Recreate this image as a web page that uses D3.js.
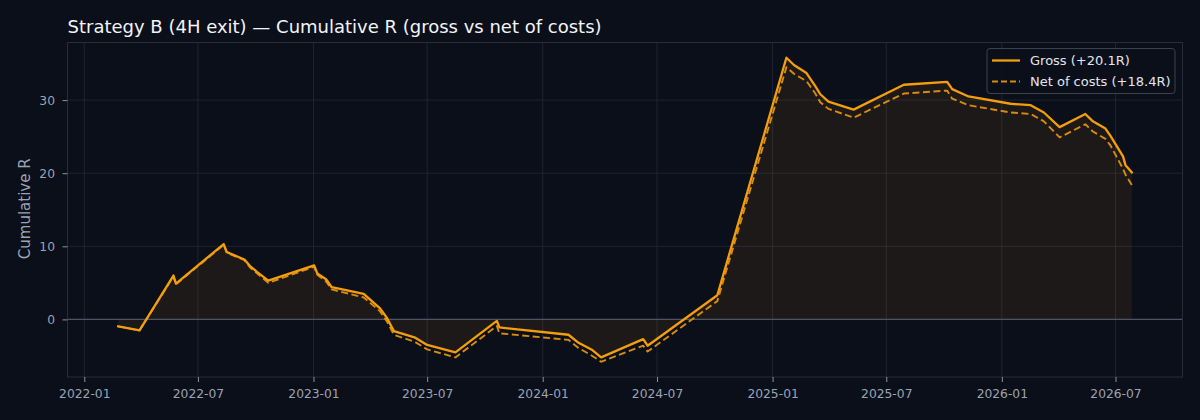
<!DOCTYPE html>
<html>
<head>
<meta charset="utf-8">
<script src="https://cdn.jsdelivr.net/npm/d3@7"></script>
<style>
  html, body { margin: 0; padding: 0; background: #0b0f19; }
  svg { display: block; font-family: "DejaVu Sans", sans-serif; }
</style>
</head>
<body>
<svg id="chart" width="1200" height="420"></svg>
<script>
// trade close dates
const dates = [
  "2022-02-24", "2022-03-30", "2022-05-23", "2022-05-27", "2022-08-11", "2022-08-16",
  "2022-09-13", "2022-09-22", "2022-10-03", "2022-10-21", "2023-01-02", "2023-01-07",
  "2023-01-21", "2023-01-30", "2023-03-22", "2023-04-17", "2023-04-28", "2023-05-09",
  "2023-06-12", "2023-07-01", "2023-08-15", "2023-10-20", "2023-10-24", "2024-02-11",
  "2024-02-27", "2024-03-20", "2024-04-03", "2024-06-09", "2024-06-16", "2024-10-05",
  "2025-01-23", "2025-02-04", "2025-02-24", "2025-03-10", "2025-03-18", "2025-03-31",
  "2025-05-10", "2025-07-29", "2025-10-06", "2025-10-14", "2025-11-09", "2026-01-15",
  "2026-02-16", "2026-03-09", "2026-04-03", "2026-05-14", "2026-05-26", "2026-06-15",
  "2026-06-23", "2026-07-13", "2026-07-17", "2026-07-27"
];
const gross = [
  -0.96, -1.5, 6.0, 4.9, 10.3, 9.2,
  8.2, 7.3, 6.5, 5.3, 7.4, 6.3,
  5.5, 4.4, 3.5, 1.5, 0.2, -1.6,
  -2.5, -3.5, -4.5, -0.2, -1.1, -2.1,
  -3.2, -4.2, -5.2, -2.7, -3.6, 3.3,
  35.8, 34.8, 33.7, 31.9, 30.8, 29.8,
  28.7, 32.1, 32.5, 31.5, 30.5, 29.5,
  29.3, 28.3, 26.3, 28.1, 27.1, 26.1,
  25.1, 22.3, 21.1, 20.1
];
const net = [
  -0.96, -1.5, 5.9, 4.8, 10.2, 9.1,
  8.1, 7.1, 6.3, 5.0, 7.2, 6.1,
  5.2, 4.1, 3.0, 1.1, -0.3, -2.1,
  -3.1, -4.1, -5.2, -0.9, -1.9, -2.8,
  -3.9, -5.0, -5.8, -3.6, -4.4, 2.5,
  34.5, 33.6, 32.6, 30.9, 29.7, 28.8,
  27.6, 30.9, 31.3, 30.2, 29.3, 28.3,
  28.1, 27.1, 24.9, 26.7, 25.7, 24.7,
  23.8, 20.6, 19.8, 18.4
];
const xTicks = ["2022-01", "2022-07", "2023-01", "2023-07", "2024-01", "2024-07", "2025-01", "2025-07", "2026-01", "2026-07"];
const yTicks = [0, 10, 20, 30];
const seriesNames = ["Gross (+20.1R)", "Net of costs (+18.4R)"];

const parse = d3.timeParse("%Y-%m-%d");
const parseMonth = d3.timeParse("%Y-%m");
const rows = dates.map((d, i) => ({date: parse(d), gross: gross[i], net: net[i]}));

const margin = {top: 42.5, right: 17.5, bottom: 43, left: 67.5};
const width = 1200, height = 420;
const amber = "#f59e0b";
const netColor = "#d98b0c";

const svg = d3.select("#chart");

// matplotlib-like 5% padding on both axes
const xExt = d3.extent(rows, d => d.date);
const xPad = (xExt[1] - xExt[0]) * 0.05;
const x = d3.scaleTime()
  .domain([new Date(+xExt[0] - xPad), new Date(+xExt[1] + xPad)])
  .range([margin.left, width - margin.right]);

const yMin = d3.min([d3.min(gross), d3.min(net), 0]);
const yMax = d3.max([d3.max(gross), d3.max(net)]);
const yPad = (yMax - yMin) * 0.05;
const y = d3.scaleLinear()
  .domain([yMin - yPad, yMax + yPad])
  .range([height - margin.bottom, margin.top]);

// grid
const grid = svg.append("g").attr("stroke", "#222a38").attr("stroke-width", 0.8);
grid.selectAll("line.v").data(xTicks).enter().append("line")
  .attr("x1", d => x(parseMonth(d))).attr("x2", d => x(parseMonth(d)))
  .attr("y1", margin.top).attr("y2", height - margin.bottom);
grid.selectAll("line.h").data(yTicks).enter().append("line")
  .attr("x1", margin.left).attr("x2", width - margin.right)
  .attr("y1", d => y(d)).attr("y2", d => y(d));

// fill under gross
const area = d3.area()
  .x(d => x(d.date))
  .y0(y(0))
  .y1(d => y(d.gross));
svg.append("path").datum(rows)
  .attr("d", area)
  .attr("fill", amber)
  .attr("fill-opacity", 0.08);

// zero line
svg.append("line")
  .attr("x1", margin.left).attr("x2", width - margin.right)
  .attr("y1", y(0)).attr("y2", y(0))
  .attr("stroke", "#4b5565").attr("stroke-width", 1.3);

// lines
const lineG = d3.line().x(d => x(d.date)).y(d => y(d.gross));
const lineN = d3.line().x(d => x(d.date)).y(d => y(d.net));
svg.append("path").datum(rows)
  .attr("d", lineN)
  .attr("fill", "none")
  .attr("stroke", netColor)
  .attr("stroke-width", 1.9)
  .attr("stroke-dasharray", "7,3.5")
  .attr("stroke-linejoin", "round");
svg.append("path").datum(rows)
  .attr("d", lineG)
  .attr("fill", "none")
  .attr("stroke", amber)
  .attr("stroke-width", 2.3)
  .attr("stroke-linejoin", "round")
  .attr("stroke-linecap", "square");

// frame
svg.append("rect")
  .attr("x", margin.left).attr("y", margin.top)
  .attr("width", width - margin.left - margin.right)
  .attr("height", height - margin.top - margin.bottom)
  .attr("fill", "none").attr("stroke", "#262d3b").attr("stroke-width", 1);

// axes
const xAxis = g => g
  .attr("transform", `translate(0,${height - margin.bottom})`)
  .call(d3.axisBottom(x)
    .tickValues(xTicks.map(parseMonth))
    .tickFormat(d3.timeFormat("%Y-%m"))
    .tickSize(5).tickPadding(7.5))
  .call(g => g.select(".domain").remove());
const yAxis = g => g
  .attr("transform", `translate(${margin.left},0)`)
  .call(d3.axisLeft(y).tickValues(yTicks).tickSize(5).tickPadding(7.5))
  .call(g => g.select(".domain").remove());

svg.append("g").call(xAxis);
svg.append("g").call(yAxis);
svg.selectAll(".tick line").attr("stroke", "#8a93a6");
svg.selectAll(".tick text")
  .attr("fill", "#9ba4b6")
  .style("font-size", "12.3px")
  .style("font-family", "DejaVu Sans, sans-serif");

// y label
svg.append("text")
  .attr("transform", `translate(30,${(margin.top + height - margin.bottom) / 2 - 1}) rotate(-90)`)
  .attr("text-anchor", "middle")
  .attr("fill", "#9ba4b6")
  .style("font-size", "15px")
  .text("Cumulative R");

// title
svg.append("text")
  .attr("x", margin.left)
  .attr("y", 32.5)
  .attr("fill", "#f2f4f8")
  .style("font-size", "18px")
  .text("Strategy B (4H exit) \u2014 Cumulative R (gross vs net of costs)");

// legend
const lg = svg.append("g").attr("transform", "translate(987,48.5)");
lg.append("rect")
  .attr("width", 188).attr("height", 45).attr("rx", 3)
  .attr("fill", "#0b0f19").attr("fill-opacity", 0.8)
  .attr("stroke", "#3a4252").attr("stroke-width", 1);
const items = [
  {name: seriesNames[0], color: amber, dash: null, w: 2.3},
  {name: seriesNames[1], color: netColor, dash: "6,3", w: 1.9}
];
items.forEach((it, i) => {
  const yy = 12 + i * 21;
  lg.append("line")
    .attr("x1", 5).attr("x2", 33).attr("y1", yy).attr("y2", yy)
    .attr("stroke", it.color).attr("stroke-width", it.w)
    .attr("stroke-dasharray", it.dash);
  lg.append("text")
    .attr("x", 43).attr("y", yy + 4.5)
    .attr("fill", "#e3e6ec")
    .style("font-size", "13px")
    .text(it.name);
});
</script>
</body>
</html>
